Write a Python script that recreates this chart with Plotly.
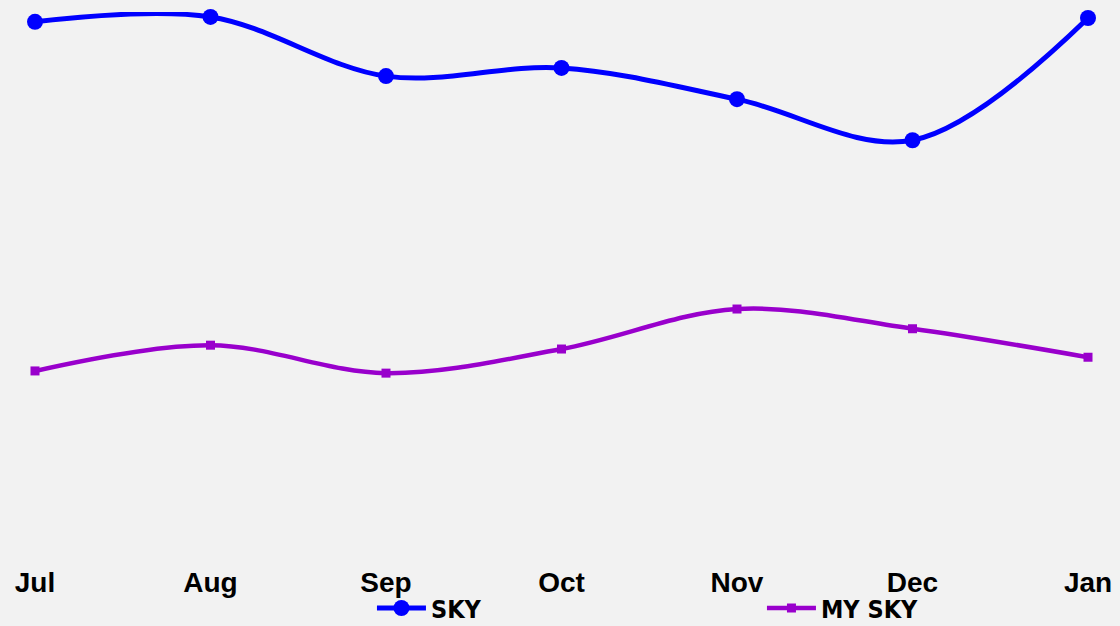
import plotly.graph_objects as go

months = ["Jul", "Aug", "Sep", "Oct", "Nov", "Dec", "Jan"]
sky = [98.2, 99.1, 88.3, 89.8, 84.1, 76.6, 98.9]
my_sky = [34.5, 39.2, 34.1, 38.5, 45.8, 42.2, 37.0]

BG = "#f2f2f2"
fig = go.Figure()
fig.add_trace(go.Scatter(
    x=months, y=sky, name="SKY", mode="lines+markers",
    line=dict(color="#0000ff", width=5, shape="spline"),
    marker=dict(symbol="circle", size=16, color="#0000ff"),
    cliponaxis=False,
))
fig.add_trace(go.Scatter(
    x=months, y=my_sky, name="MY SKY", mode="lines+markers",
    line=dict(color="#9900cc", width=4.5, shape="spline"),
    marker=dict(symbol="square", size=9, color="#9900cc"),
    cliponaxis=False,
))
fig.update_layout(
    width=1120, height=626,
    paper_bgcolor=BG, plot_bgcolor=BG,
    margin=dict(l=35, r=32, t=12, b=66, autoexpand=False),
    showlegend=True,
    legend=dict(
        orientation="h", x=0.32, xanchor="left", y=-0.088, yanchor="middle",
        itemwidth=49,
        entrywidth=326, entrywidthmode="pixels",
        font=dict(family="DejaVu Sans Condensed, DejaVu Sans", size=25, color="#000000", weight="bold"),
        bgcolor="rgba(0,0,0,0)",
    ),
    xaxis=dict(
        type="category", range=[0, 6], showgrid=False, zeroline=False, showline=False,
        ticks="", ticklabelstandoff=3,
        tickfont=dict(family="Liberation Sans", size=28, color="#000000", weight="bold"),
    ),
    yaxis=dict(range=[0, 100], visible=False, showgrid=False, zeroline=False),
)
fig.write_html("out.html", config={"displayModeBar": False},
               post_script="document.body.style.margin='0';")
